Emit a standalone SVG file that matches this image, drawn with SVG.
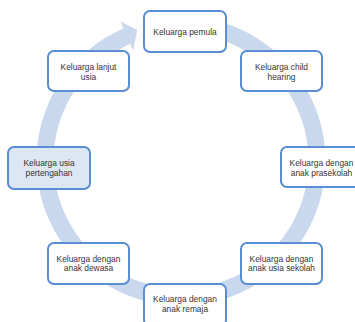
<svg xmlns="http://www.w3.org/2000/svg" width="355" height="322" viewBox="0 0 355 322">
<style>
.box{fill:#ffffff;stroke:#5b8dd3;stroke-width:2}
.hl{fill:#dde7f4}
.t{font-family:"Liberation Sans",Arial,sans-serif;font-size:8.4px;fill:#333333;text-anchor:middle}
</style>
<rect width="355" height="322" fill="#ffffff"/>
<g id="connectors">
<path d="M 150.95 19.66 A 144.5 144.5 0 1 1 123.39 28.48 L 120.4 21.6 L 137.2 30.1 L 133.16 50.95 L 130.17 44.07 A 127.5 127.5 0 1 0 154.49 36.29 Z" fill="#cad8ed"/>
</g>
<g id="n1"><rect class="box" x="144" y="11" width="82" height="41" rx="6"/><text class="t" x="185" y="34.5">Keluarga pemula</text></g>
<g id="n2"><rect class="box" x="241" y="51" width="81" height="40" rx="6"/><text class="t" x="281.5" y="69.5">Keluarga child</text><text class="t" x="281.5" y="79.5">hearing</text></g>
<g id="n3"><rect class="box" x="281" y="147" width="81" height="40" rx="6"/><text class="t" x="321.5" y="166">Keluarga dengan</text><text class="t" x="321.5" y="175.5">anak prasekolah</text></g>
<g id="n4"><rect class="box" x="241" y="243" width="81" height="41" rx="6"/><text class="t" x="281.5" y="261.5">Keluarga dengan</text><text class="t" x="281.5" y="271">anak usia sekolah</text></g>
<g id="n5"><rect class="box" x="144" y="284" width="82" height="42" rx="6"/><text class="t" x="185" y="302">Keluarga dengan</text><text class="t" x="185" y="311.5">anak remaja</text></g>
<g id="n6"><rect class="box" x="48" y="243" width="81" height="41" rx="6"/><text class="t" x="88.5" y="261.5">Keluarga dengan</text><text class="t" x="88.5" y="271">anak dewasa</text></g>
<g id="n7"><rect class="box hl" x="8" y="147" width="82" height="42" rx="6"/><text class="t" x="49" y="165.5">Keluarga usia</text><text class="t" x="49" y="175.5">pertengahan</text></g>
<g id="n8"><rect class="box" x="48" y="51" width="81" height="40" rx="6"/><text class="t" x="88.5" y="69.5">Keluarga lanjut</text><text class="t" x="88.5" y="79.5">usia</text></g>
</svg>
